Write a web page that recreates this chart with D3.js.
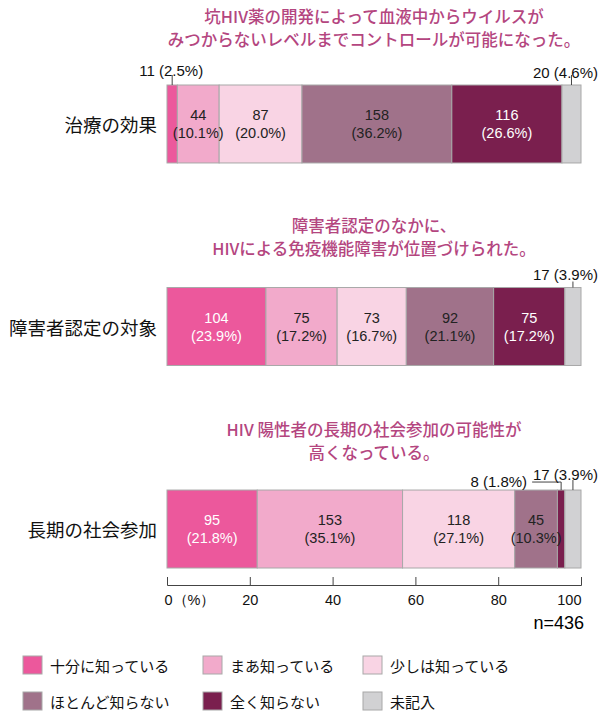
<!DOCTYPE html>
<html lang="ja">
<head>
<meta charset="UTF-8">
<title>HIV 認知度</title>
<script src="https://cdn.jsdelivr.net/npm/d3@7"></script>
<style>
  body { margin: 0; background: #fff; }
  svg { display: block; font-family: "Liberation Sans", Arial, "Noto Sans CJK JP", sans-serif; }
  .title { fill: #b4467f; font-size: 16.5px; font-weight: 500; font-family: "Noto Sans CJK JP", sans-serif; }
  .cat { font-size: 18.5px; fill: #111; font-family: "Noto Sans CJK JP", sans-serif; }
  .val { font-size: 14.5px; }
  .note { font-size: 15px; fill: #111; }
  .legend text { font-size: 15px; fill: #111; font-family: "Noto Sans CJK JP", sans-serif; }
  .axis text { font-size: 14.5px; fill: #111; }
  .axis path, .axis line { stroke: #444; }
</style>
</head>
<body>
<svg width="601" height="713"></svg>
<script>
var categories = ["治療の効果", "障害者認定の対象", "長期の社会参加"];
var responses = ["十分に知っている", "まあ知っている", "少しは知っている", "ほとんど知らない", "全く知らない", "未記入"];
var counts = [
  [11, 44, 87, 158, 116, 20],
  [104, 75, 73, 92, 75, 17],
  [95, 153, 118, 45, 8, 17]
];
var percents = [
  [2.5, 10.1, 20.0, 36.2, 26.6, 4.6],
  [23.9, 17.2, 16.7, 21.1, 17.2, 3.9],
  [21.8, 35.1, 27.1, 10.3, 1.8, 3.9]
];
var titles = [
  ["坑HIV薬の開発によって血液中からウイルスが", "みつからないレベルまでコントロールが可能になった。"],
  ["障害者認定のなかに、", "HIVによる免疫機能障害が位置づけられた。"],
  ["HIV 陽性者の長期の社会参加の可能性が", "高くなっている。"]
];
var ticks = [0, 20, 40, 60, 80, 100];
var total = 436;

var colors = ["#ec589c", "#f2aacb", "#f9d4e4", "#a0728a", "#7a1f4e", "#d1d1d3"];
var textColors = ["#fff", "#222", "#222", "#222", "#fff", "#222"];

var svg = d3.select("svg");

var x = d3.scaleLinear().domain([0, 100]).range([167, 581]);
var y = d3.scaleBand().domain(categories).range([85, 568]).paddingInner(0.615).paddingOuter(0);
var color = d3.scaleOrdinal().domain(responses).range(colors);

// titles sit a little differently above each bar
var titleGap = [45, 39, 37];

categories.forEach(function(cat, i) {
  var top = y(cat), h = y.bandwidth();
  var cum = 0;
  var segs = percents[i].map(function(p, j) {
    var s = { cat: cat, row: i, j: j, p: p, n: counts[i][j], x0: cum, x1: cum + p };
    cum += p;
    return s;
  });

  var g = svg.append("g");

  g.selectAll("text.title")
    .data(titles[i])
    .enter().append("text")
      .attr("class", "title")
      .attr("x", (x(0) + x(100)) / 2)
      .attr("y", function(d, k) { return top - titleGap[i] - (1 - k) * 23 + 6; })
      .attr("text-anchor", "middle")
      .text(function(d) { return d; });

  g.append("text")
    .attr("class", "cat")
    .attr("x", 157)
    .attr("y", top + h / 2)
    .attr("text-anchor", "end")
    .attr("dominant-baseline", "central")
    .text(cat);

  g.selectAll("rect")
    .data(segs)
    .enter().append("rect")
      .attr("x", function(d) { return x(d.x0); })
      .attr("y", top)
      .attr("width", function(d) { return x(d.x1) - x(d.x0); })
      .attr("height", h)
      .attr("fill", function(d) { return color(responses[d.j]); })
      .attr("stroke", "#a8a8a8")
      .attr("stroke-width", 1);

  var inside = segs.filter(function(d) { return d.p >= 5; });
  var lab = g.selectAll("g.val")
    .data(inside)
    .enter().append("g")
      .attr("class", "val")
      .attr("fill", function(d) { return textColors[d.j]; })
      .attr("text-anchor", "middle");
  lab.append("text")
    .attr("x", function(d) { return x((d.x0 + d.x1) / 2); })
    .attr("y", top + h / 2 - 9)
    .attr("dominant-baseline", "central")
    .text(function(d) { return d.n; });
  lab.append("text")
    .attr("x", function(d) { return x((d.x0 + d.x1) / 2); })
    .attr("y", top + h / 2 + 9)
    .attr("dominant-baseline", "central")
    .text(function(d) { return "(" + d.p.toFixed(1) + "%)"; });

  // small segments get a label outside with a leader line
  segs.filter(function(d) { return d.p < 5; }).forEach(function(d) {
    var cx = x((d.x0 + d.x1) / 2);
    var label = d.n + " (" + d.p.toFixed(1) + "%)";
    if (d.j === 5) {
      var ly = i === 0 ? top - 13 : top - 16;
      g.append("line").attr("x1", cx).attr("x2", cx)
        .attr("y1", i === 1 ? top - 6 : top - 10).attr("y2", top)
        .attr("stroke", "#444");
      g.append("text").attr("class", "note")
        .attr("x", 598).attr("y", i === 1 ? top - 13 : ly)
        .attr("text-anchor", "end").attr("dominant-baseline", "central")
        .text(label);
    } else if (d.j === 0) {
      g.append("line").attr("x1", cx).attr("x2", cx)
        .attr("y1", top - 10).attr("y2", top)
        .attr("stroke", "#444");
      g.append("text").attr("class", "note")
        .attr("x", cx - 1).attr("y", top - 15)
        .attr("text-anchor", "middle").attr("dominant-baseline", "central")
        .text(label);
    } else {
      var ey = top - 8;
      g.append("path")
        .attr("d", "M" + (cx - 29) + "," + ey + "H" + cx + "V" + top)
        .attr("fill", "none").attr("stroke", "#444");
      g.append("text").attr("class", "note")
        .attr("x", cx - 34).attr("y", ey - 1)
        .attr("text-anchor", "end").attr("dominant-baseline", "central")
        .text(label);
    }
  });
});

// axis
var axis = d3.axisBottom(x)
  .tickValues(ticks)
  .tickSize(-8)
  .tickPadding(10)
  .tickFormat(function(d) { return d === 0 ? "0（%）" : d; });

var ag = svg.append("g")
  .attr("class", "axis")
  .attr("transform", "translate(0,585)")
  .call(axis);
ag.selectAll(".tick text")
  .attr("text-anchor", function(d) { return d === 0 ? "start" : d === 100 ? "end" : "middle"; })
  .attr("dx", function(d) { return d === 0 ? -3 : 0; });

svg.append("text")
  .attr("x", 584).attr("y", 623)
  .attr("text-anchor", "end")
  .attr("dominant-baseline", "central")
  .style("font-size", "18px")
  .text("n=" + total);

// legend
var legendCols = [23, 203, 363], legendRows = [656, 692];
var lg = svg.append("g").attr("class", "legend")
  .selectAll("g")
  .data(responses)
  .enter().append("g")
    .attr("transform", function(d, i) {
      return "translate(" + legendCols[i % 3] + "," + legendRows[Math.floor(i / 3)] + ")";
    });
lg.append("rect")
  .attr("width", 19).attr("height", 18)
  .attr("fill", function(d) { return color(d); })
  .attr("stroke", "#a8a8a8");
lg.append("text")
  .attr("x", 27).attr("y", 9)
  .attr("dominant-baseline", "central")
  .text(function(d) { return d; });
</script>
</body>
</html>
